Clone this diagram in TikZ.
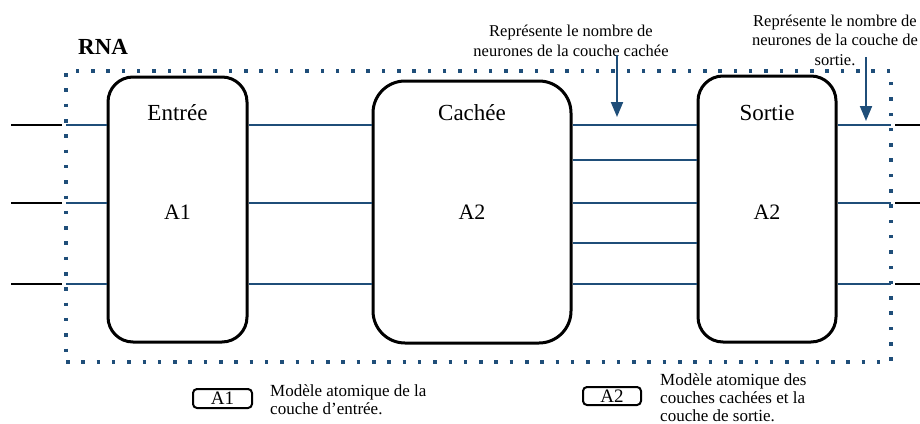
\documentclass[tikz,border=0pt]{standalone}
\usepackage{fontspec}
\setmainfont{Liberation Serif}
\usetikzlibrary{arrows.meta}
\definecolor{navy}{HTML}{1F4E79}
\begin{document}
\begin{tikzpicture}[x=1pt,y=-1pt,
  layer/.style={draw=black, line width=3pt, fill=white, inner sep=0pt},
  title/.style={anchor=base, inner sep=0pt, font=\fontsize{23}{27}\selectfont},
  model/.style={anchor=base, inner sep=0pt, font=\fontsize{22}{26}\selectfont},
  wire/.style={draw=navy, line width=2pt},
  outside/.style={draw=black, line width=2pt},
  frame/.style={draw=navy, line width=3.5pt, dash pattern=on 3.5pt off 11.8pt, inner sep=0pt},
  pointer/.style={draw=navy, line width=2pt, -{Triangle[length=15pt,width=12pt]}},
  note/.style={inner sep=0pt, align=center, font=\fontsize{16.5}{19.5}\selectfont},
  keybox/.style={draw=black, line width=2pt, rounded corners=4pt, inner sep=0pt,
    font=\fontsize{19}{22}\selectfont},
  keytext/.style={anchor=base west, inner sep=0pt, align=left,
    font=\fontsize{17}{18}\selectfont},
]
\useasboundingbox (0,0) rectangle (920,423);

% the three layers
\node[layer, rounded corners=25pt, minimum width=139pt, minimum height=265pt] (entree) at (177.5,209.5) {};
\node[layer, rounded corners=32pt, minimum width=198pt, minimum height=262pt] (cachee) at (472,212) {};
\node[layer, rounded corners=25pt, minimum width=138pt, minimum height=266pt] (sortie) at (767,209) {};

\node[title] (t-entree) at (177.5,120) {Entrée};
\node[title] (t-cachee) at (472,120) {Cachée};
\node[title] (t-sortie) at (767,120) {Sortie};
\node[model] (m-entree) at (177.5,219) {A1};
\node[model] (m-cachee) at (472,219) {A2};
\node[model] (m-sortie) at (767,219) {A2};

% row heights and outer ends
\coordinate (r1) at (0,125);
\coordinate (r2) at (0,160);
\coordinate (r3) at (0,203);
\coordinate (r4) at (0,243);
\coordinate (r5) at (0,284);
\coordinate (inL) at (11,0);
\coordinate (outR) at (920,0);

% network frame (geometry only, drawn later on top of the wires)
\path (478.5,216.5) node[minimum width=825pt, minimum height=291pt, inner sep=0pt] (rna) {};

% incoming and outgoing connections
\foreach \r in {r1,r3,r5}{
  \draw[outside] (inL |- \r) -- ([xshift=-4pt]rna.west |- \r);
  \draw[wire] (rna.west |- \r) -- (entree.west |- \r);
  \draw[wire] (entree.east |- \r) -- (cachee.west |- \r);
  \draw[wire] (sortie.east |- \r) -- (rna.east |- \r);
  \draw[outside] ([xshift=4pt]rna.east |- \r) -- (outR |- \r);
}
% hidden-to-output connections
\foreach \r in {r1,r2,r3,r4,r5}{
  \draw[wire] (cachee.east |- \r) -- (sortie.west |- \r);
}

\node[frame, minimum width=825pt, minimum height=291pt] (rna-border) at (rna) {};
\node[anchor=base west, inner sep=0pt, font=\fontsize{23}{27}\selectfont\bfseries] (rna-label) at (78,54) {RNA};

% annotations (base anchor = baseline of the last line)
\node[note, anchor=base] (note1) at (571,56) {Représente le nombre de\\neurones de la couche cachée};
\node[note, anchor=base] (note2) at (835,65) {Représente le nombre de\\neurones de la couche de\\sortie.};
\coordinate (tip1) at (617,117);
\coordinate (tip2) at (866,121);
\coordinate (start2) at (866,57);
\draw[pointer] ([yshift=1pt]note1.south -| tip1) -- (tip1);
\draw[pointer] (start2) -- (tip2);

% legend
\node[keybox, minimum width=59pt, minimum height=19pt] (key1) at (222.5,398.5) {A1};
\node[keytext] (key1-text) at (270,414) {Modèle atomique de la\\couche d’entrée.};
\node[keybox, minimum width=58pt, minimum height=18pt] (key2) at (612,396) {A2};
\node[keytext] (key2-text) at (660,421) {Modèle atomique des\\couches cachées et la\\couche de sortie.};
\end{tikzpicture}
\end{document}
